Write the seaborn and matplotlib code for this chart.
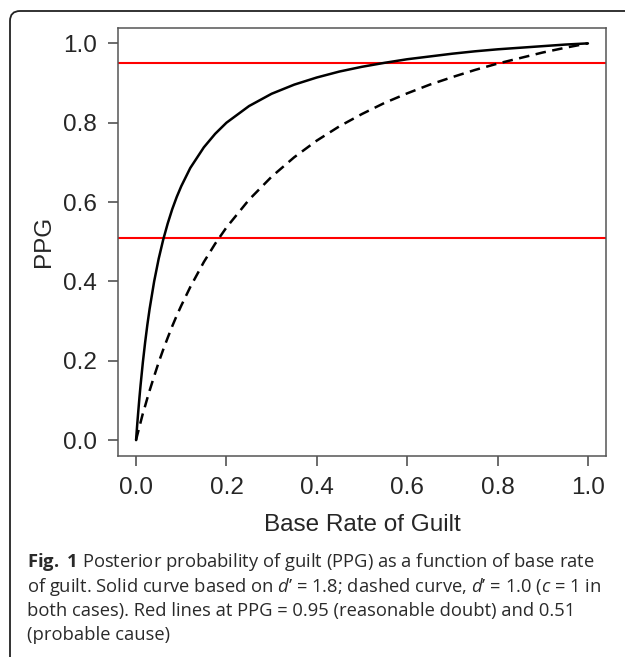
import numpy as np
import pandas as pd
import seaborn as sns
import matplotlib.pyplot as plt
from matplotlib.patches import FancyBboxPatch

# values
base_rate = [0.0, 0.001, 0.0025, 0.005, 0.0075, 0.01, 0.015, 0.02, 0.025, 0.03, 0.04, 0.05,
             0.06, 0.07, 0.08, 0.09, 0.10, 0.12, 0.15, 0.175, 0.20, 0.25, 0.30, 0.35, 0.40,
             0.45, 0.50, 0.55, 0.60, 0.65, 0.70, 0.75, 0.80, 0.85, 0.90, 0.95, 1.0]
ppg_solid = [0.0, 0.016, 0.039, 0.074, 0.108, 0.139, 0.196, 0.246, 0.291, 0.331, 0.400, 0.457,
             0.505, 0.546, 0.582, 0.613, 0.640, 0.686, 0.738, 0.772, 0.800, 0.842, 0.873, 0.896, 0.914,
             0.929, 0.941, 0.951, 0.960, 0.967, 0.974, 0.980, 0.985, 0.989, 0.993, 0.997, 1.0]
ppg_dashed = [0.0, 0.005, 0.012, 0.023, 0.034, 0.045, 0.067, 0.086, 0.106, 0.125, 0.161, 0.196,
              0.228, 0.258, 0.287, 0.314, 0.339, 0.386, 0.449, 0.495, 0.536, 0.606, 0.664, 0.713, 0.755,
              0.791, 0.822, 0.850, 0.874, 0.896, 0.915, 0.933, 0.949, 0.963, 0.977, 0.989, 1.0]
red_levels = [0.95, 0.51]
ticks = [0.0, 0.2, 0.4, 0.6, 0.8, 1.0]
tick_labels = ["0.0", "0.2", "0.4", "0.6", "0.8", "1.0"]

caption = [
    r"$\mathbf{Fig.\ 1}$ Posterior probability of guilt (PPG) as a function of base rate",
    "of guilt. Solid curve based on $d$\u2019 = 1.8; dashed curve, $d$\u2019 = 1.0 ($c$ = 1 in",
    "both cases). Red lines at PPG = 0.95 (reasonable doubt) and 0.51",
    "(probable cause)",
]

df = pd.DataFrame({"base": base_rate, "solid": ppg_solid, "dashed": ppg_dashed})

sns.set_style("ticks")
plt.rcParams["font.family"] = ["Liberation Sans", "DejaVu Sans"]
plt.rcParams["mathtext.fontset"] = "custom"
plt.rcParams["mathtext.rm"] = "Open Sans"
plt.rcParams["mathtext.it"] = "Open Sans:italic"
plt.rcParams["mathtext.bf"] = "Open Sans:bold"

W, H = 625, 657
fig = plt.figure(figsize=(W / 100, H / 100), dpi=100)
ax = fig.add_axes([118 / W, (H - 456) / H, 488 / W, 428.5 / H])

for y in red_levels:
    ax.axhline(y, color="#ff0000", lw=1.5, zorder=2)

sns.lineplot(data=df, x="base", y="solid", ax=ax, color="black", lw=1.8, zorder=3)
sns.lineplot(data=df, x="base", y="dashed", ax=ax, color="black", lw=1.8,
             linestyle=(0, (4.2, 2.6)), zorder=3)

ax.set_xlim(-0.04, 1.04)
ax.set_ylim(-0.04, 1.04)
ax.set_xticks(ticks, tick_labels)
ax.set_yticks(ticks, tick_labels)
ax.tick_params(axis="both", length=7, width=1.1, color="#444444", labelsize=17.5, pad=8)
for s in ax.spines.values():
    s.set_visible(True)
    s.set_color("#555555")
    s.set_linewidth(1.1)

ax.set_xlabel("Base Rate of Guilt", fontsize=17.5)
ax.set_ylabel("PPG", fontsize=17.5)
ax.xaxis.label.set_va("center")
ax.yaxis.label.set_va("center")
ax.xaxis.set_label_coords(0.5, (456 - 525) / 428.5)
ax.yaxis.set_label_coords((44 - 118) / 488, 0.5)

# caption under the chart
baselines = [567, 591.5, 616, 640]
for line, yb in zip(caption, baselines):
    fig.text(27 / W, 1 - yb / H, line, fontsize=13.2, family=["Open Sans", "DejaVu Sans"],
             color="#2a2a2a", va="baseline", ha="left")

# rounded frame cut off at the right and bottom
frame = FancyBboxPatch((10 / W, -0.1), 1.2, 1.1 - 11 / H,
                       boxstyle="round,pad=0,rounding_size=0.016",
                       mutation_aspect=W / H, transform=fig.transFigure,
                       facecolor="none", edgecolor="#222222", lw=1.3)
fig.patches.append(frame)

fig.savefig("out.png", dpi=100, facecolor="white")
